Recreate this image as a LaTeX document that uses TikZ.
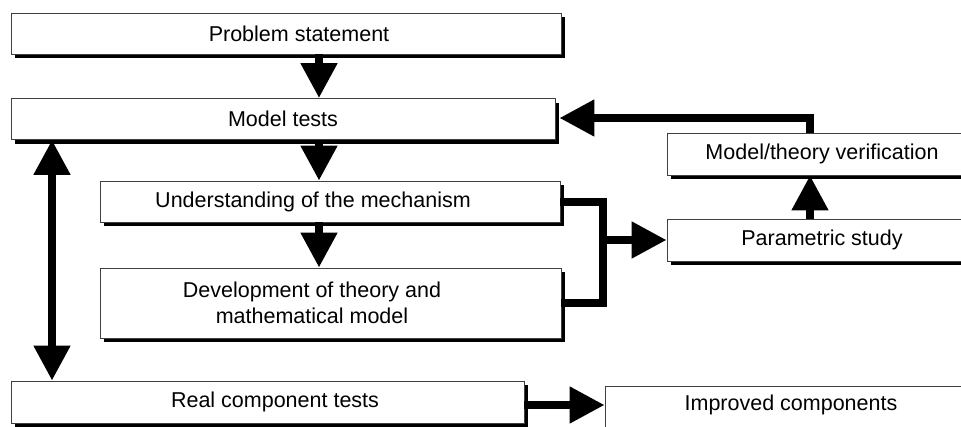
\documentclass[tikz,border=0pt]{standalone}
\usepackage{fontspec}
\setmainfont{Liberation Sans}
\usetikzlibrary{arrows.meta,shadows}
\begin{document}
\begin{tikzpicture}[x=1pt,y=-1pt,
  box/.style={draw=black!75, line width=0.9pt, fill=white, rectangle, inner sep=0pt,
    align=center, font=\fontsize{21.5}{26}\selectfont,
    general shadow={fill=black, shadow xshift=4pt, shadow yshift=-4pt}},
  tip/.tip={Triangle[length=35pt,width=35pt]},
  arr/.style={line width=8pt, -tip},
  darr/.style={line width=8pt, tip-tip},
  bar/.style={line width=8pt, line join=miter}]
\useasboundingbox (0,0) rectangle (961,426);
\clip (0,0) rectangle (961,426);
\fill[white] (0,0) rectangle (961,426);

\node[box, minimum width=550pt, minimum height=41pt] (ps) at (286,33.5) {\hspace*{26pt}Problem statement};
\node[box, minimum width=544pt, minimum height=41pt] (mt) at (283,119) {Model tests};
\node[box, minimum width=460pt, minimum height=41pt] (um) at (330,201.5) {Understanding of the mechanism\hspace*{34pt}};
\node[box, minimum width=461pt, minimum height=70pt] (dev) at (330.5,303) {Development of theory and\hspace*{37pt}\\mathematical model\hspace*{37pt}};
\node[box, minimum width=513pt, minimum height=42pt] (rc) at (267.5,402) {\hspace*{15pt}Real component tests};
\node[box, minimum width=310pt, minimum height=42pt] (mv) at (822,154) {Model/theory verification};
\node[box, minimum width=310pt, minimum height=42pt] (pst) at (822,240) {Parametric study};
\node[box, minimum width=372pt, minimum height=54pt] (ic) at (791,413) {};
\node[font=\fontsize{21.5}{26}\selectfont] (ict) at (791,405) {Improved components};

\coordinate (colA) at (319,0);
\coordinate (colB) at (52,0);
\coordinate (colC) at (810,0);
\coordinate (brk) at (603,0);
\coordinate (fbk) at (0,118);
\coordinate (rowR) at (0,405);

\draw[arr] (colA |- ps.south) -- (colA |- mt.north);
\draw[arr] (colA |- mt.south) -- (colA |- um.north);
\draw[arr] (colA |- um.south) -- (colA |- dev.north);
\draw[darr] (colB |- mt.south) -- (colB |- rc.north);
\draw[bar] (um.east) -- (brk |- um.east) -- (brk |- dev.east) -- (dev.east);
\draw[arr] (brk |- pst.west) -- (pst.west);
\draw[arr] (colC |- pst.north) -- (colC |- mv.south);
\draw[line width=8pt, line join=miter, -tip] (colC |- mv.north) -- (colC |- fbk) -- ([xshift=4pt]mt.east |- fbk);
\draw[arr] (rc.east |- rowR) -- (ic.west |- rowR);
\end{tikzpicture}
\end{document}
